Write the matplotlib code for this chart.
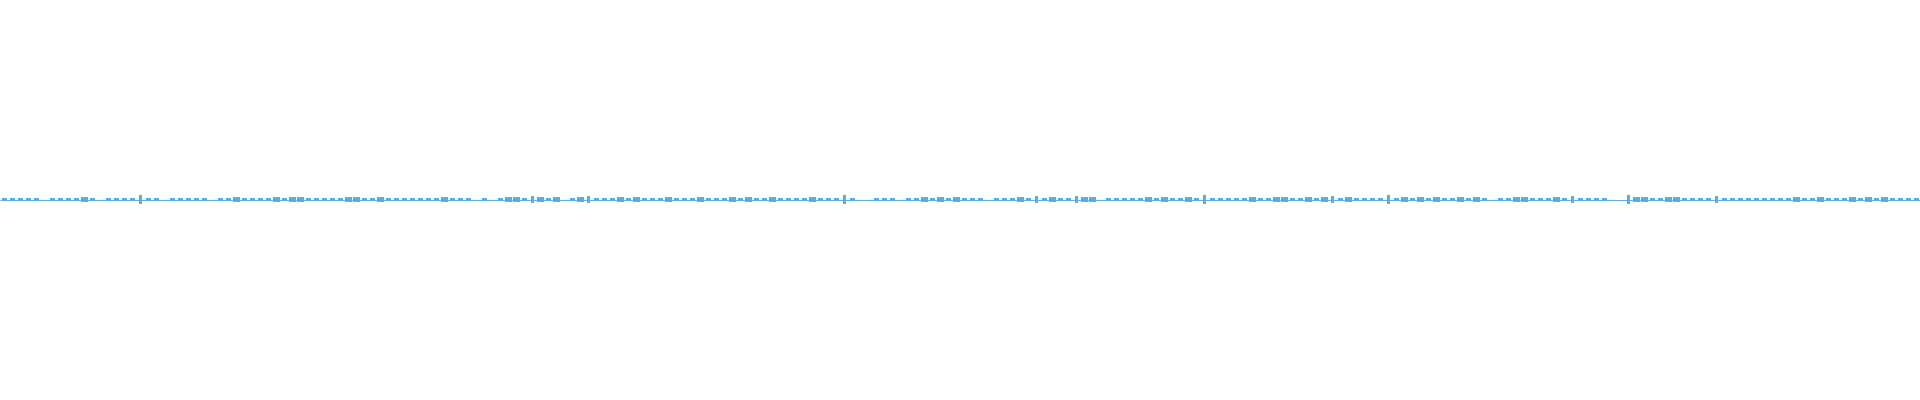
import matplotlib
matplotlib.use("Agg")
import matplotlib.pyplot as plt
import numpy as np

# waveform envelope, one value per 8px slice of the track (left to right)
amp_part1 = [1, 1, 1, 1, 1, 0, 1, 1, 1, 1, 2, 1, 0, 1, 1, 1, 1, 4, 1, 1,
             0, 1, 1, 1, 1, 1, 0, 1, 1, 2, 1, 1, 1, 1, 2, 1, 2, 2, 1, 1]
amp_part2 = [1, 1, 1, 2, 2, 1, 1, 2, 1, 1, 1, 1, 1, 1, 1, 2, 1, 1, 1, 0,
             1, 0, 1, 2, 2, 1, 3, 2, 1, 2, 0, 1, 2, 3, 1, 1, 1, 2, 1, 2]
amp_part3 = [1, 1, 1, 2, 1, 1, 1, 2, 1, 1, 1, 2, 1, 2, 1, 1, 2, 1, 1, 1,
             1, 2, 1, 1, 1, 4, 1, 0, 0, 1, 1, 1, 0, 1, 1, 2, 1, 2, 1, 2]
amp_part4 = [1, 1, 1, 0, 1, 1, 1, 2, 1, 3, 1, 2, 1, 1, 3, 2, 2, 0, 1, 1,
             1, 1, 1, 2, 1, 2, 1, 1, 2, 1, 4, 1, 1, 1, 1, 1, 2, 1, 1, 2]
amp_part5 = [2, 1, 1, 2, 1, 2, 3, 1, 2, 1, 1, 1, 1, 4, 1, 2, 1, 2, 1, 2,
             1, 1, 2, 1, 2, 1, 0, 1, 1, 2, 2, 1, 1, 1, 2, 1, 3, 1, 1, 1]
amp_part6 = [1, 0, 0, 4, 2, 2, 1, 1, 2, 2, 1, 1, 1, 1, 3, 1, 1, 1, 1, 1,
             1, 1, 1, 1, 2, 1, 1, 2, 1, 1, 1, 2, 1, 2, 1, 2, 1, 1, 1, 1]

amp = np.array(amp_part1 + amp_part2 + amp_part3 + amp_part4 + amp_part5 + amp_part6)
x = np.arange(len(amp)) * 8 + 4

wave_color = '#5dade2'

fig = plt.figure(figsize=(19.2, 4), dpi=100)
ax = fig.add_axes([0, 0, 1, 1])

# thin centre line
ax.plot([0, 1920], [0, 0], color=wave_color, linewidth=0.75, solid_capstyle='butt')

# symmetric blocks: small chatter, louder chunks, narrow peaks
for sel, w in [(amp == 1, 5), (amp == 2, 7), (amp >= 3, 3)]:
    ax.bar(x[sel], 2 * amp[sel], bottom=-amp[sel], width=w, color=wave_color, linewidth=0)

ax.set_xlim(0, 1920)
ax.set_ylim(-170.4, 169.6)  # keeps the centre line on a pixel row
ax.axis('off')

fig.savefig('out.png', dpi=100, facecolor='white')
